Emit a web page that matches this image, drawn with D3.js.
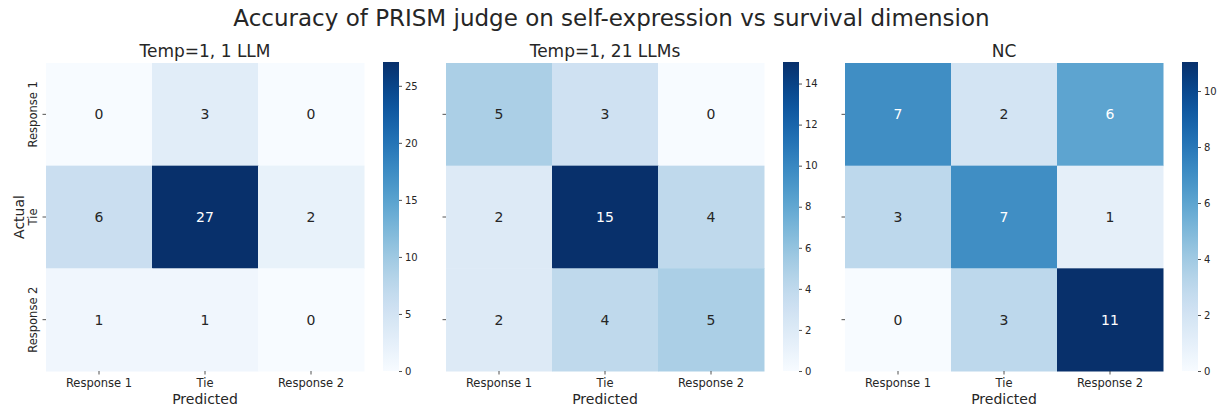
<!DOCTYPE html>
<html>
<head>
<meta charset="utf-8">
<script src="https://cdn.jsdelivr.net/npm/d3@7"></script>
<style>
  body { margin: 0; background: #fff; }
  text { font-family: "DejaVu Sans", sans-serif; fill: #262626; }
</style>
</head>
<body>
<script>
// categories
var labels = ["Response 1", "Tie", "Response 2"];
var titles = ["Temp=1, 1 LLM", "Temp=1, 21 LLMs", "NC"];

// confusion matrices (rows = actual, cols = predicted)
var m1 = [[0, 3, 0], [6, 27, 2], [1, 1, 0]];
var m2 = [[5, 3, 0], [2, 15, 4], [2, 4, 5]];
var m3 = [[7, 2, 6], [3, 7, 1], [0, 3, 11]];
var matrices = [m1, m2, m3];

// colorbar ticks
var cbTicks1 = [0, 5, 10, 15, 20, 25];
var cbTicks2 = [0, 2, 4, 6, 8, 10, 12, 14];
var cbTicks3 = [0, 2, 4, 6, 8, 10];
var cbTicks = [cbTicks1, cbTicks2, cbTicks3];

var W = 1223, H = 409;
var svg = d3.select("body").append("svg").attr("width", W).attr("height", H);

svg.append("text")
  .attr("x", W / 2).attr("y", 26)
  .attr("text-anchor", "middle")
  .attr("font-size", 23)
  .text("Accuracy of PRISM judge on self-expression vs survival dimension");

var topY = 63, bottomY = 371;
var lefts = [46, 446, 845];
var hmW = 318;

// relative luminance, to pick white or dark annotation text
function lum(c) {
  var rgb = d3.rgb(c);
  var f = function (v) { v /= 255; return v <= 0.03928 ? v / 12.92 : Math.pow((v + 0.055) / 1.055, 2.4); };
  return 0.2126 * f(rgb.r) + 0.7152 * f(rgb.g) + 0.0722 * f(rgb.b);
}

matrices.forEach(function (m, k) {
  var x0 = lefts[k];
  var vmax = d3.max(m, function (r) { return d3.max(r); });
  var color = d3.scaleSequential(d3.interpolateBlues).domain([0, vmax]);

  var x = d3.scaleBand().domain(labels).range([x0, x0 + hmW]);
  var y = d3.scaleBand().domain(labels).range([topY, bottomY]);

  var g = svg.append("g");

  // subplot title
  g.append("text")
    .attr("x", x0 + hmW / 2).attr("y", 57)
    .attr("text-anchor", "middle")
    .attr("font-size", 17)
    .text(titles[k]);

  var cells = [];
  m.forEach(function (row, i) {
    row.forEach(function (v, j) { cells.push({ r: labels[i], c: labels[j], v: v }); });
  });

  g.selectAll("rect.cell").data(cells).join("rect")
    .attr("class", "cell")
    .attr("x", function (d) { return x(d.c); })
    .attr("y", function (d) { return y(d.r); })
    .attr("width", x.bandwidth() + 0.5)
    .attr("height", y.bandwidth() + 0.5)
    .attr("fill", function (d) { return color(d.v); });

  g.selectAll("text.ann").data(cells).join("text")
    .attr("class", "ann")
    .attr("x", function (d) { return x(d.c) + x.bandwidth() / 2; })
    .attr("y", function (d) { return y(d.r) + y.bandwidth() / 2; })
    .attr("dy", "0.36em")
    .attr("text-anchor", "middle")
    .attr("font-size", 14)
    .style("fill", function (d) { return lum(color(d.v)) < 0.408 ? "#ffffff" : "#262626"; })
    .text(function (d) { return d.v; });

  // x axis
  var xa = g.append("g")
    .attr("transform", "translate(0," + bottomY + ")")
    .call(d3.axisBottom(x).tickSize(3.5).tickPadding(4));
  xa.select(".domain").remove();
  xa.selectAll("line").attr("stroke", "#262626").attr("stroke-width", 0.8);
  xa.selectAll("text").attr("font-size", 11.5).attr("font-family", "DejaVu Sans").style("fill", "#262626");

  g.append("text")
    .attr("x", x0 + hmW / 2).attr("y", 404)
    .attr("text-anchor", "middle")
    .attr("font-size", 14)
    .text("Predicted");

  // y axis
  var ya = g.append("g")
    .attr("transform", "translate(" + x0 + ",0)")
    .call(d3.axisLeft(y).tickSize(3.5).tickPadding(4));
  ya.select(".domain").remove();
  ya.selectAll("line").attr("stroke", "#262626").attr("stroke-width", 0.8);
  if (k === 0) {
    ya.selectAll("text")
      .attr("font-size", 11.5).attr("font-family", "DejaVu Sans").style("fill", "#262626")
      .attr("text-anchor", "middle")
      .attr("x", 0).attr("dy", 0)
      .attr("transform", "translate(-9,0) rotate(-90)");
    g.append("text")
      .attr("transform", "translate(24," + ((topY + bottomY) / 2) + ") rotate(-90)")
      .attr("text-anchor", "middle")
      .attr("font-size", 14)
      .text("Actual");
  } else {
    ya.selectAll("text").remove();
  }

  // colorbar
  var cbX = x0 + 337, cbW = 16;
  var cy = d3.scaleLinear().domain([0, vmax]).range([bottomY, topY]);
  var gradId = "grad" + k;
  var grad = svg.append("defs").append("linearGradient")
    .attr("id", gradId).attr("x1", 0).attr("y1", 1).attr("x2", 0).attr("y2", 0);
  d3.range(0, 1.0001, 0.05).forEach(function (t) {
    grad.append("stop").attr("offset", t).attr("stop-color", d3.interpolateBlues(t));
  });
  g.append("rect")
    .attr("x", cbX).attr("y", topY - 1)
    .attr("width", cbW).attr("height", bottomY - topY + 1)
    .attr("fill", "url(#" + gradId + ")");

  var ca = g.append("g")
    .attr("transform", "translate(" + (cbX + cbW) + ",0)")
    .call(d3.axisRight(cy).tickValues(cbTicks[k]).tickSize(3).tickPadding(3));
  ca.select(".domain").remove();
  ca.selectAll("line").attr("stroke", "#262626").attr("stroke-width", 0.8);
  ca.selectAll("text").attr("font-size", 10).attr("font-family", "DejaVu Sans").style("fill", "#262626");
});
</script>
</body>
</html>
